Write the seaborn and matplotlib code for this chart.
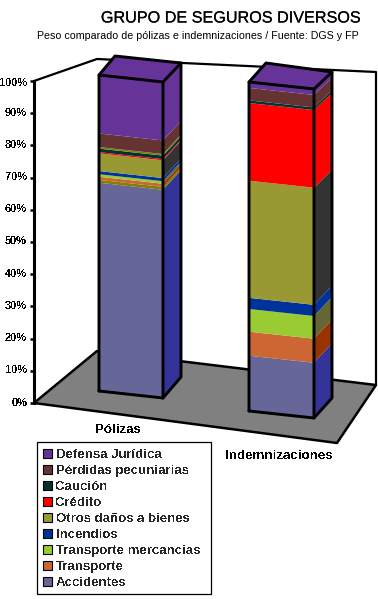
"""Grupo de seguros diversos: 3D-looking stacked bars, drawn in seaborn and sheared into place."""

import matplotlib
matplotlib.use("Agg")
import matplotlib.patheffects as pe
import matplotlib.pyplot as plt
import numpy as np
import seaborn as sns
from matplotlib.patches import Patch, Polygon, Rectangle
from matplotlib.transforms import Affine2D, ScaledTranslation

# Data
CATEGORIES = ["Pólizas", "Indemnizaciones"]
SERIES_NAMES = ["Accidentes", None, "Transporte", "Transporte mercancias", "Incendios",
                "Otros daños a bienes", "Crédito", "Caución", None,
                "Pérdidas pecuniarias", "Defensa Jurídica"]
POLIZAS = [65.9, 0.9, 1.0, 0.8, 1.0, 5.6, 0.4, 1.1, 0.5, 4.3, 18.5]
INDEMNIZACIONES = [16.8, 0.0, 7.3, 6.9, 3.4, 35.6, 23.6, 0.8, 0.0, 3.8, 1.8]
TICKS = [0, 10, 20, 30, 40, 50, 60, 70, 80, 90, 100]

FRONT_COLORS = ["#666699", "#808000", "#CC6633", "#99CC33", "#003399",
                "#999933", "#FF0000", "#003333", "#808000", "#663333", "#663399"]
SIDE_COLORS = ["#333399", "#808000", "#993300", "#666633", "#003399",
               "#333333", "#FF0000", "#003333", "#808000", "#663333", "#663399"]

# Layout, in pixels of the final picture (y pointing down)
W, H = 378, 599
BAR_W = 0.5
# front-bottom-left, front-bottom-right, front-top-left, back-bottom-right, back-top-right, back-top-left
GEOM = [
    dict(fbl=(99, 391), fbr=(163, 398), ftl=(99, 75), fbk=(181, 377), btr=(181, 63), btl=(115, 56)),
    dict(fbl=(249, 411), fbr=(314, 418), ftl=(249, 82), fbk=(332, 398), btr=(332, 72), btl=(266, 63)),
]
LABEL_POS = [(118, 430), (279, 456)]

sns.set_theme(style="white")
plt.rcParams["font.family"] = ["Liberation Sans", "DejaVu Sans"]
plt.rcParams["text.antialiased"] = False

fig = plt.figure(figsize=(W / 100, H / 100), dpi=100)
ax = fig.add_axes([34 / W, (H - 403) / H, 342 / W, 322 / H])
ax.patch.set_visible(False)
pix = Affine2D().scale(1, -1).translate(0, H)


def front_map(i):
    g = GEOM[i]
    a = (g["fbr"][0] - g["fbl"][0]) / BAR_W
    b = (g["fbr"][1] - g["fbl"][1]) / BAR_W
    c = (g["ftl"][0] - g["fbl"][0]) / 100
    d = (g["ftl"][1] - g["fbl"][1]) / 100
    x0 = i - BAR_W / 2
    return Affine2D.from_values(a, b, c, d, g["fbl"][0] - a * x0, g["fbl"][1] - b * x0)


def face(points, color, z, lw=0.0):
    ax.add_patch(Polygon(points, closed=True, facecolor=color, edgecolor="black" if lw else color,
                         linewidth=lw, transform=pix, zorder=z, clip_on=False, joinstyle="round"))


def line(points, lw, z):
    pts = np.array(points)
    ax.plot(pts[:, 0], pts[:, 1], color="black", lw=lw, transform=pix, zorder=z,
            clip_on=False, solid_capstyle="round", solid_joinstyle="round")


# Walls and floor
line([(34, 81), (97, 59), (376, 72), (376, 385)], 1.6, 1)
face([(34, 403), (337, 443), (376, 385), (97, 351)], "#808080", 2, lw=1.8)

# Stacked front faces
values = np.array([POLIZAS, INDEMNIZACIONES])
base = np.zeros(2)
tops = []
for s, color in enumerate(FRONT_COLORS):
    sns.barplot(x=CATEGORIES, y=values[:, s], bottom=base, color=color, width=BAR_W,
                saturation=1, linewidth=0, ax=ax)
    for i, rect in enumerate(ax.containers[-1].patches):
        rect.set_transform(front_map(i) + pix)
        rect.set_clip_on(False)
        rect.set_zorder(4)
    tops.append((base.copy(), base + values[:, s]))
    base = base + values[:, s]

# Side faces, top face and outlines
for i, g in enumerate(GEOM):
    fm = front_map(i)
    x_right = i + BAR_W / 2
    x_left = i - BAR_W / 2

    def fr(v):
        return tuple(fm.transform((x_right, v)))

    def bk(v):
        return (g["fbk"][0], g["fbk"][1] + (g["btr"][1] - g["fbk"][1]) * v / 100)

    for s, color in enumerate(SIDE_COLORS):
        lo, hi = tops[s][0][i], tops[s][1][i]
        if hi > lo:
            face([fr(lo), bk(lo), bk(hi), fr(hi)], color, 4)
    ftl = tuple(fm.transform((x_left, 100)))
    face([ftl, fr(100), g["btr"], g["btl"]], FRONT_COLORS[-1], 4)
    line([g["fbl"], g["fbr"], g["fbk"], g["btr"], g["btl"], ftl, g["fbl"]], 2.1, 5)
    line([ftl, fr(100), g["fbr"]], 2.1, 5)
    line([fr(100), g["btr"]], 2.1, 5)

# Axis
ax.set_ylim(0, 100)
ax.set_xticks([])
ax.set_xlabel("")
ax.set_yticks(TICKS)
ax.set_yticklabels([f"{t}%" for t in TICKS], fontsize=7.9, fontweight="bold", color="black")
ax.tick_params(axis="y", length=3, width=1.8, color="black", pad=2, left=True)
for t, label in zip(TICKS, ax.get_yticklabels()):
    shift = -1 if t == 100 else 1.5
    label.set_transform(label.get_transform() + ScaledTranslation(0, shift / 100, fig.dpi_scale_trans))
sns.despine(ax=ax, top=True, right=True, bottom=True)
ax.spines["left"].set_color("black")
ax.spines["left"].set_linewidth(2.2)

for name, (x, y) in zip(CATEGORIES, LABEL_POS):
    ax.text(x, y, name, transform=pix, ha="center", va="center", fontsize=9.6,
            fontweight="bold", color="black")

# Legend, the frame is drawn apart because its padding is not even
ax.add_patch(Rectangle((37, 442), 174, 152, facecolor="white", edgecolor="black", linewidth=0.9,
                       transform=pix, zorder=6, clip_on=False))
pairs = [(n, c) for n, c in zip(SERIES_NAMES, FRONT_COLORS) if n][::-1]
handles = [Patch(facecolor=c, edgecolor="black", linewidth=0.8) for _, c in pairs]
leg = ax.legend(handles, [n for n, _ in pairs], loc="upper left",
                bbox_to_anchor=(43, 449), bbox_transform=pix,
                prop={"weight": "bold", "size": 9.5}, frameon=False, borderaxespad=0, borderpad=0,
                labelspacing=0.29, handlelength=0.68, handleheight=0.68, handletextpad=0.28)
leg.set_zorder(7)

# Titles
ax.text(360, 18, "GRUPO DE SEGUROS DIVERSOS", transform=pix, ha="right", va="center",
        fontsize=11.65, color="black", antialiased=True,
        path_effects=[pe.withStroke(linewidth=0.12, foreground="black")])
ax.text(359, 36, "Peso comparado de pólizas e indemnizaciones / Fuente: DGS y FP", transform=pix,
        ha="right", va="center", fontsize=7.7, color="black", antialiased=True)

fig.savefig("out.png", dpi=100)
